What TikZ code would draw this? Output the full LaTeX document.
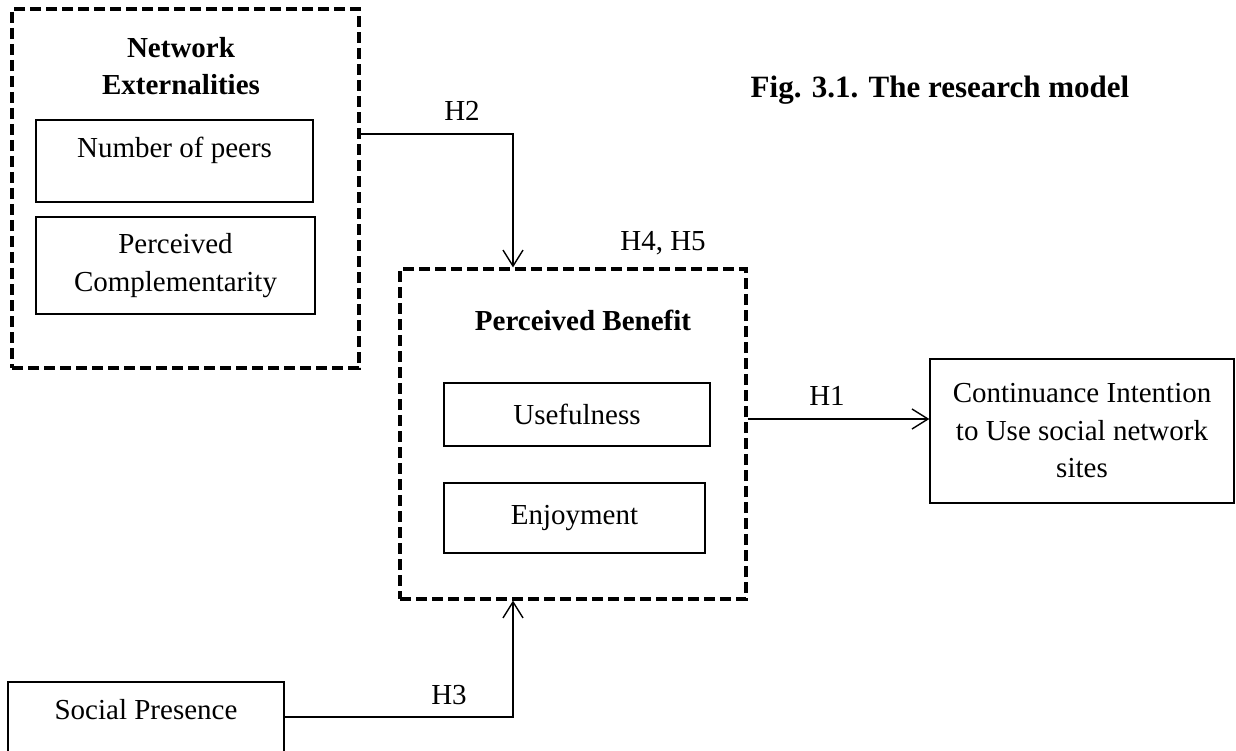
\documentclass[tikz,border=0pt]{standalone}
\usepackage{fontspec}
\setmainfont{Liberation Serif}
\usetikzlibrary{arrows.meta}
\tikzset{
  txt/.style={font=\fontsize{29}{37.5}\selectfont, inner sep=0pt},
  boldtxt/.style={font=\fontsize{29}{37.5}\selectfont\bfseries, inner sep=0pt, align=center},
  plainbox/.style={txt, draw, line width=1.4pt, align=center},
  dashbox/.style={draw, line width=3.2pt, dash pattern=on 11pt off 5pt, inner sep=0pt},
  arr/.style={line width=1.4pt, -{Straight Barb[length=16pt,width=20pt]}},
  lbl/.style={txt, anchor=base}
}
\begin{document}
\begin{tikzpicture}[x=1pt,y=-1pt]
\useasboundingbox (0,0) rectangle (1236,751);
\clip (0,0) rectangle (1236,751);
\fill[white] (0,0) rectangle (1236,751);

% Network Externalities group
\node[dashbox, minimum width=347pt, minimum height=359pt] (ne) at (185.5,188.5) {};
\node[boldtxt] (netitle) at (181,66) {Network\\Externalities};
\node[plainbox, minimum width=277pt, text height=38pt, text depth=44pt, anchor=base] (np) at (174.5,158) {Number of peers};
\node[plainbox, minimum width=279pt, minimum height=97pt] (pc) at (175.5,265.5) {Perceived\\Complementarity};

% Perceived Benefit group
\node[dashbox, minimum width=346pt, minimum height=330pt] (pb) at (573,434) {};
\node[boldtxt, anchor=base] (pbtitle) at (583,330) {Perceived Benefit};
\node[plainbox, minimum width=266pt, minimum height=63pt] (use) at (577,414.5) {Usefulness};
\node[plainbox, minimum width=261pt, minimum height=70pt] (enj) at (574.5,518) {Enjoyment};

% Continuance intention
\node[plainbox, minimum width=304pt, minimum height=144pt] (ci) at (1082,431) {Continuance Intention\\to Use social network\\sites};

% Social presence
\node[plainbox, minimum width=276pt, text height=37pt, text depth=33pt, anchor=base] (sp) at (146,719) {Social Presence};

% Title
\node[font=\fontsize{31}{37}\selectfont\bfseries, inner sep=0pt, anchor=base] (title) at (940,98) {Fig. 3.1. The research model};

% Connectors
\draw[arr] ([yshift=54.5pt]ne.east) -| ([xshift=-60pt]pb.north);
\coordinate (h1s) at ([yshift=15pt]pb.east);
\draw[arr] (h1s) -- (h1s -| ci.west);
\draw[arr] (sp.east) -| ([xshift=-60pt]pb.south);

% Labels
\node[lbl] (h2) at (462,121) {H2};
\node[lbl] (h45) at (663,251) {H4, H5};
\node[lbl] (h1) at (827,405) {H1};
\node[lbl] (h3) at (449,704) {H3};
\end{tikzpicture}
\end{document}
